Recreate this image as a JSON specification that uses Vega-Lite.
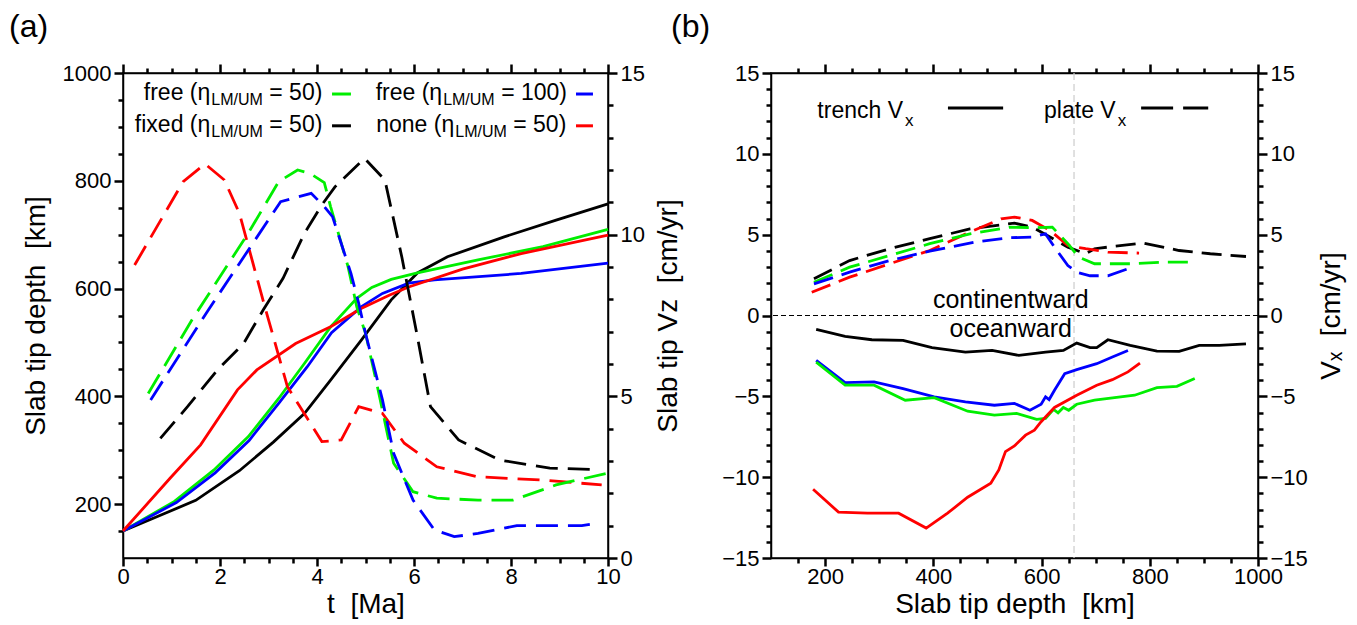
{
  "$schema": "https://vega.github.io/schema/vega-lite/v6.json",
  "padding": {"left": 8, "top": 10, "right": 5, "bottom": 2},
  "background": "white",
  "config": {
    "font": "Liberation Sans",
    "view": {"stroke": "black", "strokeWidth": 1.5},
    "axis": {"grid": false, "ticks": true, "domainColor": "black", "domainWidth": 1.5, "tickColor": "black", "tickWidth": 2.5, "tickOpacity": 1, "labelColor": "black", "labelFontSize": 22, "titleFontSize": 28, "titleFontWeight": "normal", "titleColor": "black", "labelFont": "Liberation Sans", "titleFont": "Liberation Sans", "labelPadding": 3, "labelFlush": false, "labelOverlap": false, "format": "d"},
    "title": {"fontSize": 32, "fontWeight": "normal", "anchor": "start", "color": "black", "font": "Liberation Sans", "frame": "group"}
  },
  "datasets": {
    "depthA": [
      {"case": "fixed50", "t": 0, "depth": 150}, {"case": "fixed50", "t": 1.5, "depth": 207}, {"case": "fixed50", "t": 2.4, "depth": 262}, {"case": "fixed50", "t": 3.1, "depth": 315}, {"case": "fixed50", "t": 3.74, "depth": 368}, {"case": "fixed50", "t": 4.28, "depth": 430}, {"case": "fixed50", "t": 4.91, "depth": 504}, {"case": "fixed50", "t": 5.53, "depth": 579}, {"case": "fixed50", "t": 6.07, "depth": 629}, {"case": "fixed50", "t": 6.69, "depth": 659}, {"case": "fixed50", "t": 7.86, "depth": 696}, {"case": "fixed50", "t": 8.93, "depth": 727}, {"case": "fixed50", "t": 10, "depth": 757},
      {"case": "free50", "t": 0, "depth": 150}, {"case": "free50", "t": 1.06, "depth": 205}, {"case": "free50", "t": 1.87, "depth": 263}, {"case": "free50", "t": 2.58, "depth": 325}, {"case": "free50", "t": 3.21, "depth": 396}, {"case": "free50", "t": 3.74, "depth": 461}, {"case": "free50", "t": 4.28, "depth": 529}, {"case": "free50", "t": 4.82, "depth": 582}, {"case": "free50", "t": 5.13, "depth": 602}, {"case": "free50", "t": 5.53, "depth": 617}, {"case": "free50", "t": 6.07, "depth": 629}, {"case": "free50", "t": 7.32, "depth": 653}, {"case": "free50", "t": 8.66, "depth": 678}, {"case": "free50", "t": 10, "depth": 710},
      {"case": "free100", "t": 0, "depth": 150}, {"case": "free100", "t": 1.1, "depth": 203}, {"case": "free100", "t": 1.9, "depth": 258}, {"case": "free100", "t": 2.6, "depth": 318}, {"case": "free100", "t": 3.21, "depth": 387}, {"case": "free100", "t": 3.8, "depth": 455}, {"case": "free100", "t": 4.3, "depth": 518}, {"case": "free100", "t": 4.91, "depth": 566}, {"case": "free100", "t": 5.35, "depth": 591}, {"case": "free100", "t": 5.89, "depth": 610}, {"case": "free100", "t": 6.42, "depth": 616}, {"case": "free100", "t": 8.21, "depth": 628}, {"case": "free100", "t": 10, "depth": 647},
      {"case": "none50", "t": 0, "depth": 150}, {"case": "none50", "t": 0.97, "depth": 248}, {"case": "none50", "t": 1.6, "depth": 310}, {"case": "none50", "t": 2.36, "depth": 412}, {"case": "none50", "t": 2.76, "depth": 449}, {"case": "none50", "t": 3.56, "depth": 498}, {"case": "none50", "t": 4.28, "depth": 529}, {"case": "none50", "t": 4.91, "depth": 563}, {"case": "none50", "t": 5.5, "depth": 588}, {"case": "none50", "t": 5.89, "depth": 603}, {"case": "none50", "t": 7, "depth": 636}, {"case": "none50", "t": 8.21, "depth": 665}, {"case": "none50", "t": 10, "depth": 699}
    ],
    "vzA": [
      {"case": "none50", "t": 0.24, "vz": 9.06}, {"case": "none50", "t": 1.24, "vz": 11.64}, {"case": "none50", "t": 1.69, "vz": 12.19}, {"case": "none50", "t": 2.09, "vz": 11.69}, {"case": "none50", "t": 2.4, "vz": 10.66}, {"case": "none50", "t": 2.9, "vz": 7.9}, {"case": "none50", "t": 3.39, "vz": 5.3}, {"case": "none50", "t": 4.1, "vz": 3.6}, {"case": "none50", "t": 4.5, "vz": 3.65}, {"case": "none50", "t": 4.86, "vz": 4.68}, {"case": "none50", "t": 5.35, "vz": 4.47}, {"case": "none50", "t": 5.8, "vz": 3.55}, {"case": "none50", "t": 6.47, "vz": 2.82}, {"case": "none50", "t": 7.32, "vz": 2.51}, {"case": "none50", "t": 8.66, "vz": 2.41}, {"case": "none50", "t": 9.87, "vz": 2.26},
      {"case": "free50", "t": 0.52, "vz": 5.09}, {"case": "free50", "t": 1.42, "vz": 7.36}, {"case": "free50", "t": 2.58, "vz": 10.04}, {"case": "free50", "t": 3.21, "vz": 11.64}, {"case": "free50", "t": 3.6, "vz": 12.0}, {"case": "free50", "t": 3.85, "vz": 11.9}, {"case": "free50", "t": 4.15, "vz": 11.61}, {"case": "free50", "t": 4.28, "vz": 10.87}, {"case": "free50", "t": 4.64, "vz": 9.01}, {"case": "free50", "t": 4.82, "vz": 7.77}, {"case": "free50", "t": 5.0, "vz": 6.95}, {"case": "free50", "t": 5.26, "vz": 5.2}, {"case": "free50", "t": 5.58, "vz": 2.93}, {"case": "free50", "t": 5.98, "vz": 2.05}, {"case": "free50", "t": 6.47, "vz": 1.85}, {"case": "free50", "t": 7.32, "vz": 1.79}, {"case": "free50", "t": 8.04, "vz": 1.79}, {"case": "free50", "t": 8.93, "vz": 2.26}, {"case": "free50", "t": 9.98, "vz": 2.62},
      {"case": "free100", "t": 0.57, "vz": 4.89}, {"case": "free100", "t": 1.78, "vz": 7.72}, {"case": "free100", "t": 2.4, "vz": 9.11}, {"case": "free100", "t": 3.25, "vz": 11.02}, {"case": "free100", "t": 3.88, "vz": 11.28}, {"case": "free100", "t": 4.15, "vz": 10.87}, {"case": "free100", "t": 4.32, "vz": 10.56}, {"case": "free100", "t": 4.7, "vz": 8.8}, {"case": "free100", "t": 4.86, "vz": 7.88}, {"case": "free100", "t": 5.0, "vz": 6.95}, {"case": "free100", "t": 5.35, "vz": 4.89}, {"case": "free100", "t": 5.58, "vz": 3.24}, {"case": "free100", "t": 5.98, "vz": 1.79}, {"case": "free100", "t": 6.42, "vz": 0.87}, {"case": "free100", "t": 6.83, "vz": 0.66}, {"case": "free100", "t": 7.32, "vz": 0.76}, {"case": "free100", "t": 8.12, "vz": 1.0}, {"case": "free100", "t": 9.46, "vz": 1.0}, {"case": "free100", "t": 9.82, "vz": 1.09},
      {"case": "fixed50", "t": 0.77, "vz": 3.7}, {"case": "fixed50", "t": 1.33, "vz": 4.68}, {"case": "fixed50", "t": 1.95, "vz": 5.82}, {"case": "fixed50", "t": 2.49, "vz": 6.64}, {"case": "fixed50", "t": 2.89, "vz": 7.67}, {"case": "fixed50", "t": 3.3, "vz": 8.65}, {"case": "fixed50", "t": 3.74, "vz": 10.04}, {"case": "fixed50", "t": 4.1, "vz": 10.92}, {"case": "fixed50", "t": 4.37, "vz": 11.48}, {"case": "fixed50", "t": 4.98, "vz": 12.36}, {"case": "fixed50", "t": 5.4, "vz": 11.69}, {"case": "fixed50", "t": 5.75, "vz": 9.3}, {"case": "fixed50", "t": 6.05, "vz": 7.0}, {"case": "fixed50", "t": 6.34, "vz": 4.68}, {"case": "fixed50", "t": 6.92, "vz": 3.65}, {"case": "fixed50", "t": 7.77, "vz": 3.03}, {"case": "fixed50", "t": 8.8, "vz": 2.78}, {"case": "fixed50", "t": 9.82, "vz": 2.73}
    ],
    "legA": [
      {"case": "free50", "lx": 1.8, "ly": 950, "main": "free (η", "sub": "LM/UM", "tail": " = 50)", "s1": 4.31, "s2": 4.7, "sy": 961},
      {"case": "free100", "lx": 6.58, "ly": 950, "main": "free (η", "sub": "LM/UM", "tail": " = 100)", "s1": 9.34, "s2": 9.69, "sy": 961},
      {"case": "fixed50", "lx": 1.8, "ly": 890, "main": "fixed (η", "sub": "LM/UM", "tail": " = 50)", "s1": 4.31, "s2": 4.7, "sy": 902},
      {"case": "none50", "lx": 6.83, "ly": 890, "main": "none (η", "sub": "LM/UM", "tail": " = 50)", "s1": 9.34, "s2": 9.69, "sy": 902}
    ],
    "trenchB": [
      {"case": "fixed50", "depth": 183.5, "vx": -0.86}, {"case": "fixed50", "depth": 237, "vx": -1.29}, {"case": "fixed50", "depth": 286.4, "vx": -1.5}, {"case": "fixed50", "depth": 344, "vx": -1.54}, {"case": "fixed50", "depth": 397.5, "vx": -1.99}, {"case": "fixed50", "depth": 459.3, "vx": -2.26}, {"case": "fixed50", "depth": 508.6, "vx": -2.16}, {"case": "fixed50", "depth": 558, "vx": -2.47}, {"case": "fixed50", "depth": 607.4, "vx": -2.26}, {"case": "fixed50", "depth": 640.3, "vx": -2.16}, {"case": "fixed50", "depth": 665, "vx": -1.71}, {"case": "fixed50", "depth": 689.7, "vx": -1.99}, {"case": "fixed50", "depth": 702, "vx": -1.99}, {"case": "fixed50", "depth": 722.6, "vx": -1.5}, {"case": "fixed50", "depth": 763.8, "vx": -1.85}, {"case": "fixed50", "depth": 813.2, "vx": -2.2}, {"case": "fixed50", "depth": 854.3, "vx": -2.22}, {"case": "fixed50", "depth": 891.4, "vx": -1.85}, {"case": "fixed50", "depth": 928.4, "vx": -1.85}, {"case": "fixed50", "depth": 977.8, "vx": -1.75},
      {"case": "free100", "depth": 183.5, "vx": -2.77}, {"case": "free100", "depth": 237, "vx": -4.15}, {"case": "free100", "depth": 290.5, "vx": -4.11}, {"case": "free100", "depth": 344, "vx": -4.52}, {"case": "free100", "depth": 401.6, "vx": -5.03}, {"case": "free100", "depth": 459.3, "vx": -5.34}, {"case": "free100", "depth": 512.8, "vx": -5.55}, {"case": "free100", "depth": 549.8, "vx": -5.44}, {"case": "free100", "depth": 578.6, "vx": -5.86}, {"case": "free100", "depth": 599.2, "vx": -5.49}, {"case": "free100", "depth": 607.4, "vx": -5.03}, {"case": "free100", "depth": 614, "vx": -5.2}, {"case": "free100", "depth": 623.9, "vx": -4.62}, {"case": "free100", "depth": 642.8, "vx": -3.6}, {"case": "free100", "depth": 665, "vx": -3.35}, {"case": "free100", "depth": 702, "vx": -2.98}, {"case": "free100", "depth": 730.9, "vx": -2.57}, {"case": "free100", "depth": 759.7, "vx": -2.16},
      {"case": "free50", "depth": 183.5, "vx": -2.88}, {"case": "free50", "depth": 237, "vx": -4.31}, {"case": "free50", "depth": 290.5, "vx": -4.31}, {"case": "free50", "depth": 348.1, "vx": -5.24}, {"case": "free50", "depth": 401.6, "vx": -5.08}, {"case": "free50", "depth": 463.4, "vx": -5.92}, {"case": "free50", "depth": 512.8, "vx": -6.16}, {"case": "free50", "depth": 553.9, "vx": -6.06}, {"case": "free50", "depth": 590.9, "vx": -6.43}, {"case": "free50", "depth": 607.4, "vx": -6.37}, {"case": "free50", "depth": 622.2, "vx": -5.81}, {"case": "free50", "depth": 630.5, "vx": -6.02}, {"case": "free50", "depth": 640.3, "vx": -5.69}, {"case": "free50", "depth": 650.2, "vx": -5.86}, {"case": "free50", "depth": 665, "vx": -5.49}, {"case": "free50", "depth": 697.9, "vx": -5.24}, {"case": "free50", "depth": 772, "vx": -4.93}, {"case": "free50", "depth": 813.2, "vx": -4.46}, {"case": "free50", "depth": 850.2, "vx": -4.38}, {"case": "free50", "depth": 883.1, "vx": -3.9},
      {"case": "none50", "depth": 177.8, "vx": -10.75}, {"case": "none50", "depth": 224.7, "vx": -12.16}, {"case": "none50", "depth": 278.2, "vx": -12.23}, {"case": "none50", "depth": 335.8, "vx": -12.23}, {"case": "none50", "depth": 386.8, "vx": -13.15}, {"case": "none50", "depth": 426.3, "vx": -12.23}, {"case": "none50", "depth": 463.4, "vx": -11.24}, {"case": "none50", "depth": 506.2, "vx": -10.38}, {"case": "none50", "depth": 521, "vx": -9.55}, {"case": "none50", "depth": 533.3, "vx": -8.42}, {"case": "none50", "depth": 549.8, "vx": -8.07}, {"case": "none50", "depth": 570.4, "vx": -7.4}, {"case": "none50", "depth": 586.8, "vx": -7.09}, {"case": "none50", "depth": 599.2, "vx": -6.57}, {"case": "none50", "depth": 623.9, "vx": -5.69}, {"case": "none50", "depth": 665, "vx": -4.93}, {"case": "none50", "depth": 702, "vx": -4.31}, {"case": "none50", "depth": 730.9, "vx": -3.97}, {"case": "none50", "depth": 759.7, "vx": -3.49}, {"case": "none50", "depth": 781.9, "vx": -2.94}
    ],
    "plateB": [
      {"case": "fixed50", "depth": 179.4, "vx": 2.27}, {"case": "fixed50", "depth": 245.3, "vx": 3.4}, {"case": "fixed50", "depth": 319.3, "vx": 4.13}, {"case": "fixed50", "depth": 393.4, "vx": 4.75}, {"case": "fixed50", "depth": 467.5, "vx": 5.36}, {"case": "fixed50", "depth": 549.8, "vx": 5.71}, {"case": "fixed50", "depth": 582.7, "vx": 5.47}, {"case": "fixed50", "depth": 615.6, "vx": 4.85}, {"case": "fixed50", "depth": 648.6, "vx": 4.23}, {"case": "fixed50", "depth": 681.5, "vx": 3.82}, {"case": "fixed50", "depth": 697.9, "vx": 4.13}, {"case": "fixed50", "depth": 722.6, "vx": 4.23}, {"case": "fixed50", "depth": 788.5, "vx": 4.48}, {"case": "fixed50", "depth": 854.3, "vx": 4.02}, {"case": "fixed50", "depth": 911.9, "vx": 3.82}, {"case": "fixed50", "depth": 977.8, "vx": 3.65},
      {"case": "none50", "depth": 175.3, "vx": 1.44}, {"case": "none50", "depth": 245.3, "vx": 2.37}, {"case": "none50", "depth": 319.3, "vx": 3.2}, {"case": "none50", "depth": 393.4, "vx": 4.02}, {"case": "none50", "depth": 467.5, "vx": 5.16}, {"case": "none50", "depth": 525.1, "vx": 5.98}, {"case": "none50", "depth": 549.8, "vx": 6.09}, {"case": "none50", "depth": 582.7, "vx": 5.88}, {"case": "none50", "depth": 615.6, "vx": 5.26}, {"case": "none50", "depth": 648.6, "vx": 4.33}, {"case": "none50", "depth": 681.5, "vx": 4.13}, {"case": "none50", "depth": 722.6, "vx": 3.92}, {"case": "none50", "depth": 780.2, "vx": 3.86},
      {"case": "free50", "depth": 179.4, "vx": 2.06}, {"case": "free50", "depth": 245.3, "vx": 2.99}, {"case": "free50", "depth": 319.3, "vx": 3.71}, {"case": "free50", "depth": 393.4, "vx": 4.44}, {"case": "free50", "depth": 467.5, "vx": 5.05}, {"case": "free50", "depth": 541.6, "vx": 5.47}, {"case": "free50", "depth": 582.7, "vx": 5.43}, {"case": "free50", "depth": 619.8, "vx": 5.47}, {"case": "free50", "depth": 648.6, "vx": 4.44}, {"case": "free50", "depth": 669.1, "vx": 3.61}, {"case": "free50", "depth": 698, "vx": 3.2}, {"case": "free50", "depth": 763.8, "vx": 3.2}, {"case": "free50", "depth": 829.6, "vx": 3.3}, {"case": "free50", "depth": 883.1, "vx": 3.3},
      {"case": "free100", "depth": 179.4, "vx": 1.96}, {"case": "free100", "depth": 245.3, "vx": 2.68}, {"case": "free100", "depth": 319.3, "vx": 3.4}, {"case": "free100", "depth": 393.4, "vx": 3.98}, {"case": "free100", "depth": 475.7, "vx": 4.54}, {"case": "free100", "depth": 541.6, "vx": 4.81}, {"case": "free100", "depth": 582.7, "vx": 4.85}, {"case": "free100", "depth": 607.4, "vx": 5.05}, {"case": "free100", "depth": 623.9, "vx": 4.23}, {"case": "free100", "depth": 648.6, "vx": 3.09}, {"case": "free100", "depth": 665, "vx": 2.68}, {"case": "free100", "depth": 689.7, "vx": 2.46}, {"case": "free100", "depth": 722.6, "vx": 2.46}, {"case": "free100", "depth": 759.7, "vx": 2.89}
    ],
    "refB": [{"zero": 0, "d660": 660}],
    "wordsB": [
      {"label": "continentward", "depth": 543, "vx": 0.46},
      {"label": "oceanward", "depth": 543, "vx": -1.34}
    ],
    "legB": [
      {"main": "trench V", "sub": "x", "lx": 344, "ly": 12.2, "s1": 427, "s2": 529, "sy": 12.83, "kind": "solid"},
      {"main": "plate V", "sub": "x", "lx": 737, "ly": 12.2, "s1": 784, "s2": 908, "sy": 12.83, "kind": "dashed"}
    ]
  },
  "spacing": -14,
  "hconcat": [
    {
      "width": 485, "height": 485,
      "title": {"text": "(a)", "dx": -114, "offset": 18},
      "resolve": {"scale": {"y": "independent"}, "axis": {"x": "independent", "y": "independent"}},
      "layer": [
        {
          "data": {"name": "depthA"},
          "mark": {"type": "line", "strokeWidth": 2.8},
          "encoding": {
            "x": {"field": "t", "type": "quantitative", "scale": {"domain": [0, 10], "nice": false}, "axis": {"orient": "bottom", "values": [0, 2, 4, 6, 8, 10], "ticks": true, "tickColor": "black", "tickWidth": 2.5, "tickSize": 8, "labelPadding": 0, "title": "t\u00a0\u00a0[Ma]", "titlePadding": 3}},
            "y": {"field": "depth", "type": "quantitative", "scale": {"domain": [100, 1000], "nice": false, "zero": false}, "axis": {"orient": "left", "values": [200, 400, 600, 800, 1000], "ticks": true, "tickColor": "black", "tickWidth": 2.5, "tickSize": 9, "title": "Slab tip depth\u00a0\u00a0[km]", "titlePadding": 12}},
            "color": {"field": "case", "type": "nominal", "scale": {"domain": ["free50", "free100", "fixed50", "none50"], "range": ["#00ee00", "#0000ff", "#000000", "#ff0000"]}, "legend": null}
          }
        },
        {
          "data": {"name": "vzA"},
          "mark": {"type": "line", "strokeWidth": 2.8, "strokeDash": [22, 10]},
          "encoding": {
            "x": {"field": "t", "type": "quantitative", "scale": {"domain": [0, 10], "nice": false}, "axis": {"orient": "top", "values": [0, 2, 4, 6, 8, 10], "ticks": true, "tickColor": "black", "tickWidth": 2.5, "tickSize": 9, "labels": false, "title": null}},
            "y": {"field": "vz", "type": "quantitative", "scale": {"domain": [0, 15], "nice": false}, "axis": {"orient": "right", "values": [0, 5, 10, 15], "ticks": true, "tickColor": "black", "tickWidth": 2.5, "tickSize": 9, "title": "Slab tip Vz\u00a0\u00a0[cm/yr]", "titleAngle": 270, "titleBaseline": "top", "titlePadding": 10}},
            "color": {"field": "case", "type": "nominal", "legend": null}
          }
        },
        {
          "data": {"name": "depthA"},
          "mark": {"type": "point", "opacity": 0},
          "encoding": {
            "x": {"field": "t", "type": "quantitative", "scale": {"domain": [0, 10], "nice": false}, "axis": {"orient": "bottom", "values": [0.5, 1, 1.5, 2.5, 3, 3.5, 4.5, 5, 5.5, 6.5, 7, 7.5, 8.5, 9, 9.5], "ticks": true, "tickColor": "black", "tickWidth": 2.5, "tickSize": 5, "labels": false, "domain": false, "title": null}},
            "y": {"field": "depth", "type": "quantitative", "scale": {"domain": [100, 1000], "nice": false, "zero": false}, "axis": {"orient": "left", "values": [150, 250, 300, 350, 450, 500, 550, 650, 700, 750, 850, 900, 950], "ticks": true, "tickColor": "black", "tickWidth": 2.5, "tickSize": 5, "labels": false, "domain": false, "title": null}}
          }
        },
        {
          "data": {"name": "vzA"},
          "mark": {"type": "point", "opacity": 0},
          "encoding": {
            "x": {"field": "t", "type": "quantitative", "scale": {"domain": [0, 10], "nice": false}, "axis": {"orient": "top", "values": [0.5, 1, 1.5, 2.5, 3, 3.5, 4.5, 5, 5.5, 6.5, 7, 7.5, 8.5, 9, 9.5], "ticks": true, "tickColor": "black", "tickWidth": 2.5, "tickSize": 5, "labels": false, "domain": false, "title": null}},
            "y": {"field": "vz", "type": "quantitative", "scale": {"domain": [0, 15], "nice": false}, "axis": {"orient": "right", "values": [1, 2, 3, 4, 6, 7, 8, 9, 11, 12, 13, 14], "ticks": true, "tickColor": "black", "tickWidth": 2.5, "tickSize": 5, "labels": false, "domain": false, "title": null}}
          }
        },
        {
          "data": {"name": "legA"},
          "mark": {"type": "text", "align": "right", "baseline": "alphabetic", "fontSize": 23, "color": "black"},
          "encoding": {
            "x": {"field": "lx", "type": "quantitative", "axis": null},
            "y": {"field": "ly", "type": "quantitative", "scale": {"domain": [100, 1000], "nice": false, "zero": false}, "axis": null},
            "text": {"field": "main"}
          }
        },
        {
          "data": {"name": "legA"},
          "mark": {"type": "text", "align": "left", "baseline": "alphabetic", "fontSize": 16, "dy": 5, "dx": 1, "color": "black"},
          "encoding": {
            "x": {"field": "lx", "type": "quantitative", "axis": null},
            "y": {"field": "ly", "type": "quantitative", "scale": {"domain": [100, 1000], "nice": false, "zero": false}, "axis": null},
            "text": {"field": "sub"}
          }
        },
        {
          "data": {"name": "legA"},
          "mark": {"type": "text", "align": "left", "baseline": "alphabetic", "fontSize": 23, "dx": 59, "color": "black"},
          "encoding": {
            "x": {"field": "lx", "type": "quantitative", "axis": null},
            "y": {"field": "ly", "type": "quantitative", "scale": {"domain": [100, 1000], "nice": false, "zero": false}, "axis": null},
            "text": {"field": "tail"}
          }
        },
        {
          "data": {"name": "legA"},
          "mark": {"type": "rule", "strokeWidth": 3},
          "encoding": {
            "x": {"field": "s1", "type": "quantitative", "axis": null},
            "x2": {"field": "s2"},
            "y": {"field": "sy", "type": "quantitative", "scale": {"domain": [100, 1000], "nice": false, "zero": false}, "axis": null},
            "color": {"field": "case", "type": "nominal", "legend": null}
          }
        }
      ]
    },
    {
      "width": 487, "height": 485,
      "title": {"text": "(b)", "dx": -100, "offset": 18},
      "resolve": {"axis": {"x": "independent", "y": "independent"}},
      "layer": [
        {
          "data": {"name": "refB"},
          "mark": {"type": "rule", "color": "#cccccc", "strokeWidth": 1.2, "strokeDash": [7, 4]},
          "encoding": {
            "x": {"field": "d660", "type": "quantitative", "scale": {"domain": [100, 1000], "nice": false, "zero": false}, "axis": null}
          }
        },
        {
          "data": {"name": "refB"},
          "mark": {"type": "rule", "color": "black", "strokeWidth": 1, "strokeDash": [5, 3]},
          "encoding": {
            "y": {"field": "zero", "type": "quantitative", "scale": {"domain": [-15, 15], "nice": false}, "axis": null}
          }
        },
        {
          "data": {"name": "trenchB"},
          "mark": {"type": "line", "strokeWidth": 2.8},
          "encoding": {
            "x": {"field": "depth", "type": "quantitative", "scale": {"domain": [100, 1000], "nice": false, "zero": false}, "axis": {"orient": "bottom", "values": [200, 400, 600, 800, 1000], "ticks": true, "tickColor": "black", "tickWidth": 2.5, "tickSize": 8, "labelPadding": 0, "title": "Slab tip depth\u00a0\u00a0[km]", "titlePadding": 3}},
            "y": {"field": "vx", "type": "quantitative", "scale": {"domain": [-15, 15], "nice": false}, "axis": {"orient": "left", "values": [-15, -10, -5, 0, 5, 10, 15], "ticks": true, "tickColor": "black", "tickWidth": 2.5, "tickSize": 9, "title": null}},
            "color": {"field": "case", "type": "nominal", "scale": {"domain": ["free50", "free100", "fixed50", "none50"], "range": ["#00ee00", "#0000ff", "#000000", "#ff0000"]}, "legend": null}
          }
        },
        {
          "data": {"name": "plateB"},
          "mark": {"type": "line", "strokeWidth": 2.8, "strokeDash": [20, 9]},
          "encoding": {
            "x": {"field": "depth", "type": "quantitative", "scale": {"domain": [100, 1000], "nice": false, "zero": false}, "axis": {"orient": "top", "values": [200, 400, 600, 800, 1000], "ticks": true, "tickColor": "black", "tickWidth": 2.5, "tickSize": 9, "labels": false, "title": null}},
            "y": {"field": "vx", "type": "quantitative", "scale": {"domain": [-15, 15], "nice": false}, "axis": {"orient": "right", "values": [-15, -10, -5, 0, 5, 10, 15], "ticks": true, "tickColor": "black", "tickWidth": 2.5, "tickSize": 9, "title": "Vₓ\u00a0\u00a0[cm/yr]", "titleAngle": 270, "titleBaseline": "top", "titlePadding": 10}},
            "color": {"field": "case", "type": "nominal", "legend": null}
          }
        },
        {
          "data": {"name": "trenchB"},
          "mark": {"type": "point", "opacity": 0},
          "encoding": {
            "x": {"field": "depth", "type": "quantitative", "scale": {"domain": [100, 1000], "nice": false, "zero": false}, "axis": {"orient": "bottom", "values": [150, 250, 300, 350, 450, 500, 550, 650, 700, 750, 850, 900, 950], "ticks": true, "tickColor": "black", "tickWidth": 2.5, "tickSize": 5, "labels": false, "domain": false, "title": null}},
            "y": {"field": "vx", "type": "quantitative", "scale": {"domain": [-15, 15], "nice": false}, "axis": {"orient": "left", "values": [-14, -13, -12, -11, -9, -8, -7, -6, -4, -3, -2, -1, 1, 2, 3, 4, 6, 7, 8, 9, 11, 12, 13, 14], "ticks": true, "tickColor": "black", "tickWidth": 2.5, "tickSize": 5, "labels": false, "domain": false, "title": null}}
          }
        },
        {
          "data": {"name": "plateB"},
          "mark": {"type": "point", "opacity": 0},
          "encoding": {
            "x": {"field": "depth", "type": "quantitative", "scale": {"domain": [100, 1000], "nice": false, "zero": false}, "axis": {"orient": "top", "values": [150, 250, 300, 350, 450, 500, 550, 650, 700, 750, 850, 900, 950], "ticks": true, "tickColor": "black", "tickWidth": 2.5, "tickSize": 5, "labels": false, "domain": false, "title": null}},
            "y": {"field": "vx", "type": "quantitative", "scale": {"domain": [-15, 15], "nice": false}, "axis": {"orient": "right", "values": [-14, -13, -12, -11, -9, -8, -7, -6, -4, -3, -2, -1, 1, 2, 3, 4, 6, 7, 8, 9, 11, 12, 13, 14], "ticks": true, "tickColor": "black", "tickWidth": 2.5, "tickSize": 5, "labels": false, "domain": false, "title": null}}
          }
        },
        {
          "data": {"name": "wordsB"},
          "mark": {"type": "text", "align": "center", "baseline": "alphabetic", "fontSize": 25, "color": "black"},
          "encoding": {
            "x": {"field": "depth", "type": "quantitative", "axis": null},
            "y": {"field": "vx", "type": "quantitative", "axis": null},
            "text": {"field": "label"}
          }
        },
        {
          "data": {"name": "legB"},
          "mark": {"type": "text", "align": "right", "baseline": "alphabetic", "fontSize": 23, "color": "black"},
          "encoding": {
            "x": {"field": "lx", "type": "quantitative", "axis": null},
            "y": {"field": "ly", "type": "quantitative", "axis": null},
            "text": {"field": "main"}
          }
        },
        {
          "data": {"name": "legB"},
          "mark": {"type": "text", "align": "left", "baseline": "alphabetic", "fontSize": 17, "dy": 8, "dx": 2, "color": "black"},
          "encoding": {
            "x": {"field": "lx", "type": "quantitative", "axis": null},
            "y": {"field": "ly", "type": "quantitative", "axis": null},
            "text": {"field": "sub"}
          }
        },
        {
          "data": {"name": "legB"},
          "transform": [{"filter": "datum.kind == 'solid'"}],
          "mark": {"type": "rule", "strokeWidth": 3, "color": "black"},
          "encoding": {
            "x": {"field": "s1", "type": "quantitative", "axis": null},
            "x2": {"field": "s2"},
            "y": {"field": "sy", "type": "quantitative", "axis": null}
          }
        },
        {
          "data": {"name": "legB"},
          "transform": [{"filter": "datum.kind == 'dashed'"}],
          "mark": {"type": "rule", "strokeWidth": 3, "color": "black", "strokeDash": [32, 10]},
          "encoding": {
            "x": {"field": "s1", "type": "quantitative", "axis": null},
            "x2": {"field": "s2"},
            "y": {"field": "sy", "type": "quantitative", "axis": null}
          }
        }
      ]
    }
  ]
}
